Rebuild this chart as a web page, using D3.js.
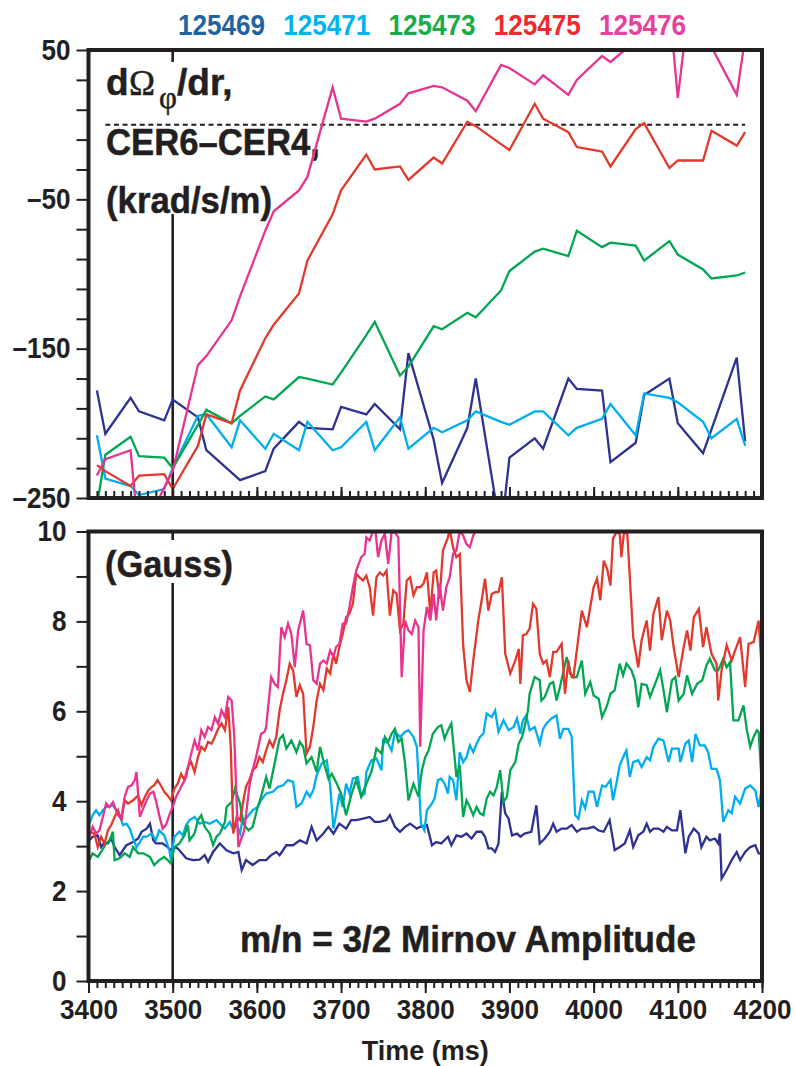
<!DOCTYPE html>
<html>
<head>
<meta charset="utf-8">
<script src="https://cdn.jsdelivr.net/npm/d3@7"></script>
<style>
  html, body { margin: 0; padding: 0; background: #fff; }
  svg { display: block; }
  text { font-family: "Liberation Sans", Arial, Helvetica, sans-serif; font-weight: bold; fill: #231f20; }
  .heavy { stroke: #231f20; stroke-width: 0.5px; }
</style>
</head>
<body>
<svg id="chart" width="795" height="1066"></svg>
<script>
// ---- shots ----
const shots = ["125469", "125471", "125473", "125475", "125476"];

// ---- CER rotation-shear samples (ms) ----
const cerTimes = [3410, 3420, 3450, 3460, 3490, 3500, 3530, 3540, 3570, 3580,
                  3610, 3620, 3650, 3660, 3690, 3700, 3730, 3740, 3770, 3780,
                  3810, 3820, 3850, 3860, 3890, 3900, 3930, 3940, 3970, 3980,
                  4010, 4020, 4050, 4060, 4090, 4100, 4130, 4140, 4170, 4180];

// dOmega_phi/dr, CER6-CER4 (krad/s/m)
const shear125469 = [-178, -207, -183, -192, -198, -184, -196, -218, -233, -238,
                     -232, -217, -199, -203, -204, -189, -194, -187, -204, -153,
                     -211, -240, -203, -170, -274, -223, -210, -217, -170, -177,
                     -178, -226, -213, -181, -170, -200, -220, -204, -156, -212];
const shear125471 = [-208, -237, -242, -248, -244, -230, -195, -194, -216, -198,
                     -217, -207, -218, -199, -218, -216, -199, -218, -196, -217,
                     -203, -206, -198, -192, -199, -201, -192, -192, -208, -203,
                     -197, -187, -208, -180, -183, -186, -199, -210, -197, -215];
const shear125473 = [-255, -221, -209, -222, -223, -230, -201, -191, -200, -195,
                     -182, -184, -169, -170, -174, -166, -141, -132, -168, -162,
                     -135, -137, -126, -129, -111, -98, -85, -83, -88, -71,
                     -82, -79, -81, -91, -78, -87, -97, -103, -101, -99];
const shear125475 = [-228, -232, -242, -235, -234, -244, -215, -194, -200, -178,
                     -143, -134, -113, -91, -60, -44, -20, -30, -28, -37,
                     -22, -26, 2, -1, -13, -17, 14, 4, -5, -15,
                     -18, -28, -3, 1, -29, -24, -24, -4, -14, -5];
const shear125476 = [-235, -224, -218, -278, -243, -232, -161, -155, -131, -115,
                     -71, -58, -44, -35, 25, 4, 2, 4, 14, 21,
                     26, 25, 16, 9, 40, 38, 27, 33, 20, 30,
                     46, 42, 56, 65, 80, 18, 160, 52, 20, 58];

// ---- m/n = 3/2 Mirnov amplitude (Gauss), [time ms, amplitude] ----
const mirnov125469 = [[3401,3.13],[3405,3.21],[3411,3.24],[3415,2.98],[3419,3.09],[3423,3.06],[3427,3.17],[3431,2.98],[3437,2.80],[3445,3.02],[3453,3.09],[3459,3.17],[3463,3.32],[3469,3.39],[3473,3.50],[3477,3.13],[3480,3.06],[3488,3.06],[3494,2.98],[3498,2.91],[3504,2.98],[3508,2.91],[3516,2.73],[3524,2.69],[3532,2.70],[3538,2.80],[3542,2.65],[3548,2.87],[3556,3.06],[3564,2.91],[3572,2.84],[3578,2.87],[3582,2.47],[3587,2.69],[3595,2.58],[3603,2.69],[3611,2.69],[3617,2.80],[3623,2.87],[3627,2.80],[3635,3.02],[3643,3.02],[3651,3.13],[3659,3.06],[3665,3.43],[3671,3.13],[3679,3.28],[3685,3.43],[3691,3.28],[3698,3.50],[3706,3.39],[3712,3.58],[3718,3.58],[3726,3.61],[3734,3.65],[3740,3.54],[3746,3.54],[3754,3.58],[3758,3.69],[3764,3.43],[3770,3.32],[3776,3.43],[3782,3.50],[3790,3.39],[3794,3.43],[3802,3.47],[3808,3.02],[3813,3.09],[3819,3.06],[3827,3.21],[3831,3.02],[3837,3.24],[3843,3.21],[3849,3.28],[3855,3.17],[3861,3.32],[3867,3.32],[3871,3.21],[3875,2.95],[3879,2.95],[3883,2.87],[3887,3.06],[3891,4.21],[3895,3.73],[3899,3.61],[3903,3.24],[3909,3.28],[3913,3.21],[3918,3.28],[3926,3.32],[3932,3.91],[3936,3.06],[3942,3.17],[3948,3.32],[3952,3.50],[3956,3.32],[3962,3.39],[3968,3.39],[3974,3.47],[3980,3.32],[3986,3.39],[3992,3.39],[4000,3.43],[4006,3.35],[4012,3.32],[4019,3.58],[4025,2.91],[4031,2.98],[4037,3.06],[4043,3.35],[4047,2.98],[4053,3.24],[4059,3.32],[4063,3.50],[4067,3.32],[4071,3.39],[4077,3.39],[4083,3.32],[4087,3.43],[4093,3.35],[4099,3.35],[4103,3.80],[4109,2.84],[4113,3.21],[4119,3.39],[4125,3.28],[4128,2.98],[4134,3.21],[4138,3.13],[4144,3.17],[4148,3.06],[4150,3.28],[4152,2.28],[4158,2.47],[4164,2.69],[4170,2.87],[4174,2.69],[4180,2.87],[4186,2.98],[4192,3.02],[4196,2.84],[4200,2.82]];

const mirnov125471 = [[3401,3.50],[3405,3.69],[3409,3.80],[3413,3.69],[3417,3.80],[3421,3.87],[3429,3.91],[3433,3.80],[3437,3.69],[3441,3.47],[3445,3.50],[3449,3.39],[3453,3.17],[3457,2.98],[3461,3.09],[3465,3.21],[3469,3.21],[3475,3.28],[3480,3.13],[3484,3.35],[3490,3.24],[3496,2.91],[3498,2.69],[3502,3.21],[3508,3.32],[3512,3.24],[3516,3.47],[3520,3.58],[3526,3.65],[3532,3.50],[3538,3.54],[3544,3.50],[3548,3.54],[3552,3.58],[3556,3.50],[3562,3.39],[3568,3.54],[3572,3.35],[3576,3.47],[3580,3.28],[3583,3.61],[3587,3.61],[3595,3.80],[3601,3.87],[3605,4.02],[3611,4.17],[3619,4.21],[3625,4.32],[3631,4.35],[3637,4.47],[3643,4.43],[3647,3.87],[3653,3.95],[3659,4.21],[3663,4.10],[3667,4.24],[3671,4.58],[3677,4.84],[3683,4.91],[3687,4.35],[3691,3.39],[3695,3.80],[3698,4.17],[3702,3.87],[3706,4.39],[3710,4.17],[3714,4.50],[3720,4.54],[3724,4.10],[3728,4.17],[3730,4.65],[3736,4.91],[3742,4.95],[3748,4.69],[3750,5.36],[3756,5.28],[3760,5.13],[3764,5.54],[3770,5.43],[3776,5.54],[3780,5.58],[3786,5.43],[3790,5.21],[3795,3.50],[3799,3.35],[3802,3.80],[3808,3.95],[3811,4.06],[3815,4.47],[3819,4.50],[3823,4.39],[3827,4.17],[3829,4.54],[3833,4.47],[3837,4.02],[3841,5.09],[3845,4.87],[3849,4.98],[3853,5.24],[3857,5.09],[3861,5.28],[3865,5.43],[3869,5.50],[3873,5.95],[3879,5.87],[3883,6.02],[3887,5.54],[3893,5.80],[3899,5.58],[3905,5.65],[3909,5.84],[3913,5.50],[3916,5.80],[3920,5.91],[3924,5.58],[3930,5.65],[3936,5.28],[3940,5.61],[3944,5.73],[3950,5.84],[3956,5.91],[3960,5.39],[3964,5.61],[3970,5.61],[3974,5.43],[3978,3.69],[3982,3.61],[3986,4.02],[3990,3.84],[3994,4.21],[4000,4.21],[4004,3.87],[4010,4.35],[4014,4.32],[4020,4.47],[4023,4.02],[4027,4.39],[4031,4.80],[4037,5.06],[4039,5.13],[4043,4.54],[4047,4.87],[4053,4.91],[4057,4.76],[4063,4.98],[4067,4.91],[4071,5.21],[4077,5.39],[4083,5.35],[4089,4.87],[4093,5.17],[4101,5.17],[4103,4.87],[4109,5.28],[4113,5.35],[4117,4.87],[4121,5.50],[4126,5.24],[4132,5.24],[4136,5.09],[4140,4.72],[4146,4.72],[4150,4.47],[4154,3.54],[4160,3.80],[4164,3.73],[4168,4.10],[4174,3.95],[4180,4.28],[4186,4.35],[4192,4.24],[4196,3.87],[4200,4.32]];

const mirnov125473 = [[3401,2.69],[3405,2.84],[3411,2.76],[3415,2.87],[3421,3.06],[3425,3.13],[3429,3.32],[3431,2.69],[3437,2.73],[3443,2.84],[3449,2.76],[3453,2.98],[3459,2.84],[3465,2.84],[3473,2.76],[3478,2.58],[3484,2.69],[3490,2.76],[3494,2.69],[3498,2.61],[3502,2.98],[3508,3.06],[3514,3.24],[3518,3.47],[3520,3.13],[3526,3.28],[3530,3.58],[3534,3.69],[3538,3.43],[3544,3.28],[3548,3.02],[3552,3.21],[3556,3.28],[3562,3.54],[3564,3.87],[3570,3.98],[3574,4.28],[3580,3.95],[3584,3.50],[3590,3.35],[3595,3.43],[3601,3.87],[3605,4.10],[3611,4.54],[3615,4.28],[3619,4.65],[3623,5.02],[3627,5.39],[3631,5.47],[3635,5.17],[3641,5.35],[3647,5.09],[3651,5.32],[3655,5.21],[3659,4.84],[3665,4.98],[3671,4.65],[3675,5.21],[3681,4.76],[3685,4.50],[3689,4.61],[3694,4.43],[3700,4.17],[3706,3.69],[3712,4.13],[3718,4.47],[3724,4.10],[3730,4.39],[3736,4.65],[3742,5.17],[3748,5.06],[3752,5.43],[3756,5.32],[3760,5.50],[3764,5.61],[3768,5.32],[3772,5.39],[3776,4.84],[3780,4.02],[3786,4.39],[3792,4.10],[3796,4.69],[3800,4.98],[3804,5.13],[3809,5.50],[3815,5.65],[3819,5.69],[3823,5.39],[3827,5.58],[3831,5.73],[3835,4.95],[3837,4.54],[3841,4.80],[3845,3.65],[3849,4.02],[3853,3.87],[3857,3.69],[3861,3.87],[3865,3.73],[3869,3.69],[3873,4.06],[3877,4.21],[3881,4.13],[3885,4.32],[3889,4.69],[3893,3.98],[3897,4.10],[3901,4.69],[3907,4.87],[3911,5.28],[3915,5.43],[3918,5.65],[3922,6.02],[3924,6.39],[3930,6.76],[3936,6.69],[3938,6.24],[3942,6.32],[3948,6.61],[3952,6.65],[3956,6.24],[3960,6.54],[3968,7.21],[3974,6.76],[3980,6.76],[3986,7.13],[3990,6.39],[3996,6.65],[4000,6.35],[4006,6.28],[4010,5.87],[4016,6.13],[4020,6.39],[4025,6.47],[4031,7.06],[4035,6.80],[4039,7.06],[4045,6.91],[4049,6.69],[4053,6.09],[4057,6.61],[4063,6.58],[4067,6.32],[4073,6.61],[4079,6.91],[4083,6.47],[4087,5.98],[4093,6.69],[4097,6.76],[4101,6.24],[4107,6.39],[4111,6.80],[4117,6.39],[4123,6.61],[4129,6.69],[4134,7.02],[4138,7.17],[4144,6.91],[4148,6.91],[4154,7.17],[4158,6.98],[4162,7.09],[4166,5.80],[4172,5.80],[4178,6.13],[4182,5.58],[4186,5.21],[4190,5.43],[4194,5.58],[4196,5.54],[4200,4.32]];

const mirnov125475 = [[3401,3.32],[3407,3.28],[3411,2.98],[3415,3.21],[3419,3.06],[3423,3.35],[3427,3.47],[3431,3.65],[3435,3.80],[3439,3.58],[3443,4.02],[3447,3.95],[3453,4.02],[3459,4.13],[3463,3.91],[3467,4.10],[3471,4.24],[3475,4.32],[3478,4.35],[3482,4.47],[3486,4.35],[3490,4.21],[3494,4.13],[3498,4.02],[3502,4.28],[3506,4.39],[3510,4.61],[3514,4.47],[3518,4.76],[3522,4.87],[3526,4.65],[3530,4.98],[3534,5.21],[3538,5.13],[3542,5.32],[3546,5.28],[3550,5.43],[3554,5.61],[3558,5.73],[3562,5.58],[3566,6.10],[3569,5.20],[3572,3.28],[3576,3.65],[3580,3.58],[3584,4.02],[3587,4.32],[3591,4.47],[3595,4.69],[3599,4.76],[3603,4.98],[3607,4.87],[3611,5.13],[3615,5.35],[3619,5.21],[3623,5.43],[3627,6.02],[3631,6.39],[3635,6.69],[3639,7.06],[3643,6.91],[3647,6.32],[3651,6.58],[3655,6.39],[3659,5.06],[3663,5.21],[3667,5.65],[3671,6.24],[3675,6.61],[3679,6.47],[3683,6.95],[3687,6.84],[3691,7.28],[3694,7.06],[3698,7.43],[3702,7.72],[3706,8.09],[3710,8.17],[3714,8.39],[3718,9.06],[3722,8.98],[3726,8.91],[3730,9.02],[3734,8.76],[3738,8.13],[3742,8.98],[3746,9.09],[3750,9.02],[3754,9.13],[3758,8.13],[3762,8.69],[3766,8.61],[3770,7.80],[3774,7.95],[3778,8.91],[3782,8.98],[3786,8.58],[3790,8.76],[3794,8.76],[3798,8.84],[3802,9.09],[3806,8.17],[3810,9.09],[3813,9.13],[3817,8.50],[3821,9.58],[3827,9.87],[3829,10.06],[3833,9.65],[3837,9.43],[3841,9.50],[3845,7.47],[3849,6.69],[3853,6.43],[3857,7.13],[3863,8.02],[3867,8.47],[3871,8.95],[3875,8.24],[3879,8.61],[3883,8.65],[3887,8.65],[3891,8.98],[3895,7.28],[3901,6.84],[3907,7.13],[3911,7.39],[3913,6.61],[3916,7.69],[3920,7.72],[3924,7.84],[3928,8.39],[3932,8.28],[3936,7.28],[3940,7.06],[3944,7.13],[3948,6.76],[3952,7.32],[3956,7.32],[3962,7.50],[3966,6.39],[3970,7.13],[3972,6.84],[3976,6.76],[3982,7.65],[3986,8.24],[3992,7.87],[3996,8.32],[4000,8.76],[4004,8.95],[4008,8.47],[4012,9.35],[4016,9.17],[4020,8.80],[4023,9.84],[4027,9.98],[4031,9.95],[4033,9.43],[4036,9.98],[4040,9.95],[4043,8.98],[4047,7.65],[4053,6.98],[4057,7.58],[4063,8.02],[4067,7.35],[4071,8.17],[4077,8.54],[4081,7.58],[4087,8.24],[4091,8.02],[4095,7.43],[4101,6.76],[4107,7.43],[4111,7.80],[4115,7.35],[4119,8.09],[4125,8.28],[4130,7.43],[4134,7.87],[4140,7.28],[4146,7.06],[4148,6.24],[4152,6.91],[4158,7.47],[4164,7.13],[4168,7.35],[4174,7.65],[4180,6.54],[4184,7.50],[4190,7.54],[4196,8.02],[4200,6.84]];

const mirnov125476 = [[3401,3.21],[3405,3.43],[3409,3.28],[3413,3.35],[3417,3.65],[3421,3.95],[3425,3.87],[3429,3.98],[3435,3.69],[3439,3.61],[3443,4.10],[3447,4.32],[3451,4.35],[3455,4.47],[3457,4.65],[3461,3.65],[3465,3.84],[3469,4.02],[3473,4.17],[3477,4.21],[3480,4.02],[3484,3.69],[3488,3.39],[3492,3.47],[3496,3.69],[3500,3.87],[3504,4.10],[3508,4.24],[3512,4.39],[3516,4.54],[3520,4.91],[3526,5.35],[3530,5.13],[3534,5.58],[3538,5.43],[3542,5.65],[3546,5.58],[3550,5.87],[3554,5.72],[3558,6.02],[3562,5.87],[3566,6.32],[3570,6.24],[3573,5.50],[3578,2.98],[3585,3.35],[3591,4.32],[3595,4.69],[3599,4.98],[3605,5.50],[3609,5.54],[3611,5.65],[3617,6.76],[3621,6.61],[3625,6.54],[3629,7.87],[3633,7.65],[3637,7.95],[3641,7.72],[3645,6.98],[3649,7.80],[3655,8.24],[3659,7.50],[3663,7.47],[3667,6.69],[3671,6.61],[3675,7.06],[3679,7.13],[3683,7.06],[3687,7.35],[3691,7.21],[3694,7.43],[3698,7.50],[3702,7.95],[3706,7.95],[3710,8.32],[3714,8.76],[3718,9.13],[3724,9.43],[3728,9.50],[3730,9.87],[3734,9.80],[3738,10.02],[3740,10.17],[3744,9.43],[3748,9.80],[3752,9.95],[3756,9.28],[3760,9.98],[3764,9.98],[3768,9.87],[3772,6.76],[3776,8.02],[3780,7.80],[3784,7.72],[3788,8.02],[3792,7.87],[3794,5.21],[3798,7.80],[3802,8.32],[3806,8.02],[3810,8.61],[3813,8.02],[3817,8.84],[3821,8.24],[3825,8.76],[3829,8.98],[3833,9.50],[3837,9.58],[3841,10.02],[3845,9.91],[3849,9.72],[3853,9.65],[3857,9.91],[3859,9.98]];

// ---- axis ticks ----
const timeMajorTicks = [3400, 3500, 3600, 3700, 3800, 3900, 4000, 4100, 4200];
const shearTicks = [-250, -230, -210, -190, -170, -150, -130, -110, -90, -70, -50, -30, -10, 10, 30, 50];
const shearLabels = [-250, -150, -50, 50];
const gaussTicks = [0, 1, 2, 3, 4, 5, 6, 7, 8, 9, 10];
const gaussLabels = [0, 2, 4, 6, 8, 10];

// ---- styling ----
const ink = "#231f20";
const lineColors = ["#2e3192", "#00aeef", "#00a651", "#e2392d", "#e8338f"];
const legendColors = ["#1f64a0", "#00b4ee", "#1aab4b", "#ee2a2e", "#e8409c"];

const shearSeries = [shear125469, shear125471, shear125473, shear125475, shear125476];
const mirnovSeries = [mirnov125469, mirnov125471, mirnov125473, mirnov125475, mirnov125476];

const svg = d3.select("#chart");

const x = d3.scaleLinear().domain([3400, 4200]).range([88.5, 762]);
const yS = d3.scaleLinear().domain([-250, 50]).range([498, 50]);
const yM = d3.scaleLinear().domain([0, 10]).range([981, 531.5]);

const defs = svg.append("defs");
function addClip(id, yScale) {
  const [y0, y1] = yScale.range();
  defs.append("clipPath").attr("id", id).append("rect")
    .attr("x", x.range()[0]).attr("y", y1)
    .attr("width", x.range()[1] - x.range()[0]).attr("height", y0 - y1);
}
addClip("clip-shear", yS);
addClip("clip-mirnov", yM);

const dashSymbol = v => v < 0 ? "\u2013" + Math.abs(v) : String(v);

function styleAxis(g, fontSize, charW) {
  g.attr("font-family", null).attr("font-size", null);
  g.select(".domain").remove();
  g.selectAll(".tick line").attr("stroke", ink).attr("stroke-width", 2);
  g.selectAll(".tick text")
    .attr("fill", ink)
    .style("font-size", fontSize + "px")
    .attr("lengthAdjust", "spacingAndGlyphs")
    .attr("textLength", function () { const s = this.textContent; return s ? s.length * charW : null; });
}

// ---- legend of shot numbers ----
const legendX = d3.scalePoint().domain(shots).range([221.5, 642.5]);
svg.append("g").selectAll("text").data(shots).join("text")
  .attr("x", d => legendX(d)).attr("y", 35)
  .attr("text-anchor", "middle")
  .attr("font-size", 29)
  .attr("lengthAdjust", "spacingAndGlyphs").attr("textLength", 87)
  .style("fill", (d, i) => legendColors[i])
  .text(d => d);

// ================= upper panel: rotation shear =================
const upper = svg.append("g");

// t = 3500 ms marker
upper.append("line")
  .attr("x1", x(3500)).attr("x2", x(3500))
  .attr("y1", yS(50)).attr("y2", yS(-250))
  .attr("stroke", ink).attr("stroke-width", 2.6);

// label backing
upper.append("rect").attr("x", 100).attr("y", 62).attr("width", 175).attr("height", 152).attr("fill", "#fff");

// zero reference
upper.append("line")
  .attr("x1", x(3420)).attr("x2", x(4180))
  .attr("y1", yS(0)).attr("y2", yS(0))
  .attr("stroke", ink).attr("stroke-width", 2).attr("stroke-dasharray", "5,3.6");

// panel label
const lbl1 = upper.append("text").attr("y", 95).attr("font-size", 37).attr("class", "heavy");
lbl1.append("tspan").attr("x", 106).text("d");
lbl1.append("tspan").attr("x", 129)
  .style("font-family", '"Liberation Serif", "Times New Roman", serif').style("font-weight", "normal")
  .attr("font-size", 35).text("\u03A9");
lbl1.append("tspan").attr("x", 159).attr("dy", 13)
  .style("font-family", '"Liberation Serif", "Times New Roman", serif').style("font-weight", "normal")
  .attr("font-size", 31).text("\u03C6");
lbl1.append("tspan").attr("x", 177).attr("dy", -13).text("/dr,");

upper.append("text").attr("x", 106).attr("y", 155).attr("font-size", 37).attr("class", "heavy")
  .attr("lengthAdjust", "spacingAndGlyphs").attr("textLength", 214)
  .text("CER6\u2013CER4,");
upper.append("text").attr("x", 106).attr("y", 213).attr("font-size", 37).attr("class", "heavy")
  .attr("lengthAdjust", "spacingAndGlyphs").attr("textLength", 166)
  .text("(krad/s/m)");

// shear traces
const shearLine = d3.line().x((d, i) => x(cerTimes[i])).y(d => yS(d));
upper.append("g").attr("clip-path", "url(#clip-shear)")
  .selectAll("path").data(shearSeries).join("path")
  .attr("d", d => shearLine(d))
  .attr("fill", "none")
  .attr("stroke", (d, i) => lineColors[i])
  .attr("stroke-width", 2.3)
  .attr("stroke-linejoin", "miter");

// frame
upper.append("rect")
  .attr("x", x.range()[0]).attr("y", yS(50))
  .attr("width", x.range()[1] - x.range()[0]).attr("height", yS(-250) - yS(50))
  .attr("fill", "none").attr("stroke", ink).attr("stroke-width", 4);

// axes
upper.append("g").attr("transform", `translate(${x.range()[0]},0)`)
  .call(d3.axisLeft(yS).tickValues(shearTicks).tickSize(12).tickPadding(6)
    .tickFormat(v => shearLabels.includes(v) ? dashSymbol(v) : ""))
  .call(g => styleAxis(g, 29, 14.5));
upper.append("g").attr("transform", `translate(0,${yS(-250)})`)
  .call(d3.axisBottom(x).tickValues(d3.range(3400, 4201, 10)).tickSize(-7).tickFormat(""))
  .call(g => styleAxis(g, 29, 14.5));
upper.append("g").attr("transform", `translate(0,${yS(-250)})`)
  .call(d3.axisBottom(x).tickValues(timeMajorTicks).tickSize(-11).tickFormat(""))
  .call(g => styleAxis(g, 29, 14.5));

// ================= lower panel: Mirnov amplitude =================
const lower = svg.append("g");

lower.append("line")
  .attr("x1", x(3500)).attr("x2", x(3500))
  .attr("y1", yM(10)).attr("y2", yM(0))
  .attr("stroke", ink).attr("stroke-width", 2.6);

lower.append("rect").attr("x", 100).attr("y", 540).attr("width", 140).attr("height", 43).attr("fill", "#fff");

lower.append("text").attr("x", 105).attr("y", 577).attr("font-size", 37).attr("class", "heavy")
  .attr("lengthAdjust", "spacingAndGlyphs").attr("textLength", 128)
  .text("(Gauss)");

lower.append("text").attr("x", 240).attr("y", 952).attr("font-size", 37).attr("class", "heavy")
  .attr("lengthAdjust", "spacingAndGlyphs").attr("textLength", 456)
  .text("m/n = 3/2 Mirnov Amplitude");

const mirnovLine = d3.line().x(d => x(d[0])).y(d => yM(d[1]));
lower.append("g").attr("clip-path", "url(#clip-mirnov)")
  .selectAll("path").data(mirnovSeries).join("path")
  .attr("d", d => mirnovLine(d))
  .attr("fill", "none")
  .attr("stroke", (d, i) => lineColors[i])
  .attr("stroke-width", 2.3)
  .attr("stroke-linejoin", "miter");

lower.append("rect")
  .attr("x", x.range()[0]).attr("y", yM(10))
  .attr("width", x.range()[1] - x.range()[0]).attr("height", yM(0) - yM(10))
  .attr("fill", "none").attr("stroke", ink).attr("stroke-width", 4);

lower.append("g").attr("transform", `translate(${x.range()[0]},0)`)
  .call(d3.axisLeft(yM).tickValues(gaussTicks).tickSize(12).tickPadding(10)
    .tickFormat(v => gaussLabels.includes(v) ? String(v) : ""))
  .call(g => styleAxis(g, 29, 14.5));
lower.append("g").attr("transform", `translate(0,${yM(0)})`)
  .call(d3.axisBottom(x).tickValues(d3.range(3400, 4201, 10)).tickSize(7).tickFormat(""))
  .call(g => styleAxis(g, 29, 14.5));
lower.append("g").attr("transform", `translate(0,${yM(0)})`)
  .call(d3.axisBottom(x).tickValues(timeMajorTicks).tickSize(12).tickPadding(7).tickFormat(d3.format("d")))
  .call(g => styleAxis(g, 27, 14.5));

svg.append("text").attr("x", (x.range()[0] + x.range()[1]) / 2).attr("y", 1060)
  .attr("text-anchor", "middle").attr("font-size", 28)
  .attr("lengthAdjust", "spacingAndGlyphs").attr("textLength", 127)
  .text("Time (ms)");
</script>
</body>
</html>
